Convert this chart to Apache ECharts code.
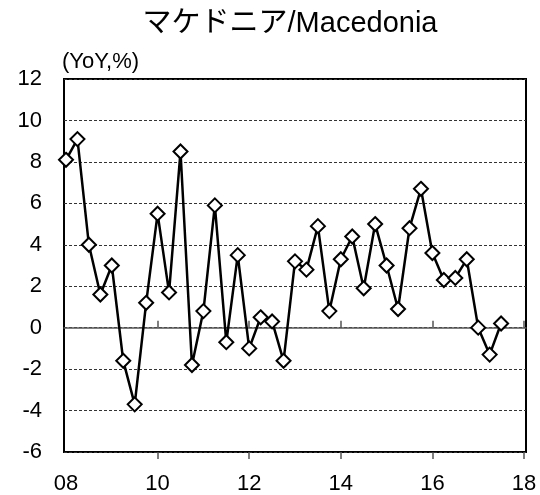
<!DOCTYPE html>
<html>
<head>
<meta charset="utf-8">
<script src="https://cdn.jsdelivr.net/npm/echarts@6/dist/echarts.min.js"></script>
<style>
html,body{margin:0;padding:0;background:#fff;}
#c{width:540px;height:495px;}
</style>
</head>
<body>
<div id="c"></div>
<script>
// Quarterly YoY %, 2008Q1 .. 2017Q3 (x = quarter index from 2008Q1)
const values = [8.1, 9.1, 4.0, 1.6, 3.0, -1.6, -3.7, 1.2, 5.5, 1.7, 8.5, -1.8, 0.8, 5.9, -0.7, 3.5, -1.0, 0.5, 0.3, -1.6, 3.2, 2.8, 4.9, 0.8, 3.3, 4.4, 1.9, 5.0, 3.0, 0.9, 4.8, 6.7, 3.6, 2.3, 2.4, 3.3, 0.0, -1.3, 0.2];
const tickPositions = [0, 8, 16, 24, 32, 40];
const tickLabels = ['08', '10', '12', '14', '16', '18'];
const titleText = 'マケドニア/Macedonia';
const unitText = '(YoY,%)';

const FONT = '"Liberation Sans", Arial, "Noto Sans CJK JP", sans-serif';
const data = values.map((v, i) => [i, v]);
const xMin = -0.175, xMax = 40.175;

const chart = echarts.init(document.getElementById('c'), null, {renderer: 'canvas'});
chart.setOption({
  animation: false,
  backgroundColor: '#fff',
  textStyle: {fontFamily: FONT},
  grid: {left: 64, right: 14, top: 79, bottom: 41, show: true, borderColor: '#000', borderWidth: 2, backgroundColor: 'transparent', containLabel: false},
  graphic: [
    {type: 'text', x: 290, y: 9, style: {text: titleText, font: '29px ' + FONT, fill: '#000', align: 'center', verticalAlign: 'top'}, z: 10},
    {type: 'text', left: 62, top: 51, style: {text: unitText, font: '22px ' + FONT, fill: '#000'}, z: 10}
  ],
  xAxis: [
    {
      type: 'value', min: xMin, max: xMax, position: 'bottom',
      axisLine: {show: false, onZero: false}, axisTick: {show: false}, splitLine: {show: false},
      axisLabel: {customValues: tickPositions, fontSize: 22, color: '#000', fontFamily: FONT, margin: 21,
        formatter: function (v) { const k = tickPositions.indexOf(Math.round(v)); return k >= 0 ? tickLabels[k] : ''; }}
    },
    {
      type: 'value', min: xMin, max: xMax, position: 'bottom',
      axisLine: {show: true, onZero: true, lineStyle: {color: '#555', width: 1.5}},
      axisTick: {show: true, inside: true, length: 7, customValues: tickPositions.slice(1), lineStyle: {color: '#555', width: 1.5}},
      axisLabel: {show: false}, splitLine: {show: false}
    },
    {
      type: 'value', min: xMin, max: xMax, position: 'bottom',
      axisLine: {show: false, onZero: true},
      axisTick: {show: true, inside: false, length: 7, customValues: tickPositions.slice(1), lineStyle: {color: '#555', width: 1.5}},
      axisLabel: {show: false}, splitLine: {show: false}
    }
  ],
  yAxis: {
    type: 'value', min: -6, max: 12, interval: 2,
    axisLine: {show: false}, axisTick: {show: false},
    axisLabel: {fontSize: 22, color: '#000', fontFamily: FONT, margin: 22},
    splitLine: {show: true, lineStyle: {color: '#333', width: 1, type: [3, 2]}}
  },
  series: [{
    type: 'line', data: data, xAxisIndex: 0,
    symbol: 'diamond', symbolSize: 14, showAllSymbol: true,
    lineStyle: {color: '#000', width: 2.5},
    itemStyle: {color: '#fff', borderColor: '#000', borderWidth: 2},
    z: 5
  }]
});
</script>
</body>
</html>
